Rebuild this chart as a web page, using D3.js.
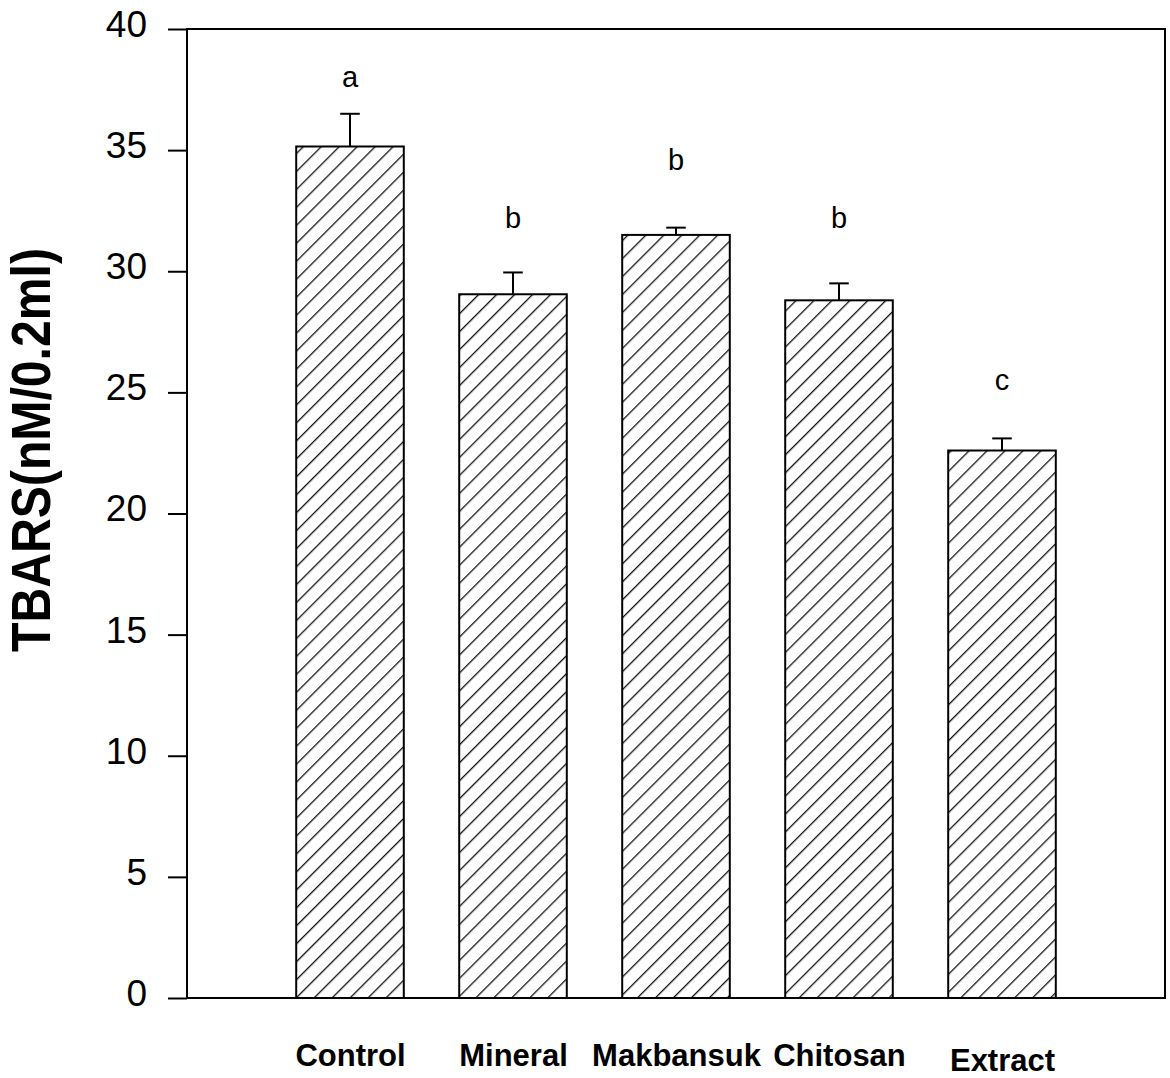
<!DOCTYPE html>
<html>
<head>
<meta charset="utf-8">
<script src="https://cdn.jsdelivr.net/npm/d3@7"></script>
<style>
  body { margin: 0; background: #fff; }
  svg { display: block; font-family: "Liberation Sans", Arial, sans-serif; }
</style>
</head>
<body>
<svg id="chart" width="1170" height="1078"></svg>
<script>
"use strict";

// values
const groups = ["Control", "Mineral", "Makbansuk", "Chitosan", "Extract"];
const means = [35.15, 29.05, 31.5, 28.8, 22.6];
const errors = [1.35, 0.9, 0.3, 0.7, 0.5];
const letters = ["a", "b", "b", "b", "c"];
const letterAt = [37.6, 31.8, 34.2, 31.8, 25.1];
const yTicks = [0, 5, 10, 15, 20, 25, 30, 35, 40];

const plotL = 187, plotR = 1165, plotT = 29, plotB = 998;
const barW = 0.66, capW = 0.12;

const svg = d3.select("#chart");

const x = d3.scaleLinear().domain([0, groups.length + 1]).range([plotL, plotR]);
const y = d3.scaleLinear().domain([0, 40]).range([plotB, plotT]);

const data = groups.map((g, i) => ({
  name: g, pos: i + 1, mean: means[i], err: errors[i],
  letter: letters[i], at: letterAt[i]
}));

// hatch fill
svg.append("defs").append("pattern")
  .attr("id", "hatch")
  .attr("patternUnits", "userSpaceOnUse")
  .attr("width", 12.7).attr("height", 12.7)
  .attr("patternTransform", "rotate(45)")
  .append("line")
  .attr("x1", 0).attr("y1", 0).attr("x2", 0).attr("y2", 12.7)
  .attr("stroke", "#111").attr("stroke-width", 2.6);

// bars
svg.selectAll(".bar")
  .data(data)
  .enter().append("rect")
  .attr("class", "bar")
  .attr("x", d => x(d.pos - barW / 2))
  .attr("y", d => y(d.mean))
  .attr("width", d => x(d.pos + barW / 2) - x(d.pos - barW / 2))
  .attr("height", d => y(0) - y(d.mean))
  .attr("fill", "url(#hatch)")
  .attr("stroke", "#000")
  .attr("stroke-width", 2);

// error bars (upper only)
const eb = svg.selectAll(".err").data(data).enter().append("g").attr("class", "err");
eb.append("line")
  .attr("x1", d => x(d.pos)).attr("x2", d => x(d.pos))
  .attr("y1", d => y(d.mean)).attr("y2", d => y(d.mean + d.err))
  .attr("stroke", "#000").attr("stroke-width", 2);
eb.append("line")
  .attr("x1", d => x(d.pos - capW / 2)).attr("x2", d => x(d.pos + capW / 2))
  .attr("y1", d => y(d.mean + d.err)).attr("y2", d => y(d.mean + d.err))
  .attr("stroke", "#000").attr("stroke-width", 2);

// significance letters
svg.selectAll(".sig")
  .data(data)
  .enter().append("text")
  .attr("class", "sig")
  .attr("x", d => x(d.pos))
  .attr("y", d => y(d.at))
  .attr("text-anchor", "middle")
  .attr("font-size", 29)
  .text(d => d.letter);

// frame
svg.append("rect")
  .attr("x", plotL).attr("y", plotT)
  .attr("width", plotR - plotL).attr("height", plotB - plotT)
  .attr("fill", "none").attr("stroke", "#000").attr("stroke-width", 2);

// y axis
const yAxis = svg.append("g")
  .attr("transform", `translate(${plotL},0)`)
  .call(d3.axisLeft(y).tickValues(yTicks).tickSize(19).tickPadding(21));
yAxis.select(".domain").remove();
yAxis.selectAll(".tick line").attr("stroke", "#000").attr("stroke-width", 2);
yAxis.selectAll(".tick text")
  .attr("font-size", 37)
  .attr("font-family", "Liberation Sans, Arial, sans-serif")
  .attr("fill", "#000")
  .attr("dy", "0.2em");

// x axis labels
const xAxis = svg.append("g")
  .attr("transform", `translate(0,${plotB})`)
  .call(d3.axisBottom(x)
    .tickValues(data.map(d => d.pos))
    .tickFormat((v, i) => groups[i])
    .tickSize(0).tickPadding(46));
xAxis.select(".domain").remove();
xAxis.selectAll(".tick text")
  .attr("font-size", 31)
  .attr("font-weight", "bold")
  .attr("font-family", "Liberation Sans, Arial, sans-serif")
  .attr("fill", "#000")
  .attr("dy", (v, i) => i === groups.length - 1 ? "0.88em" : "0.71em");

// y title
svg.append("text")
  .attr("transform", "translate(50,450) rotate(-90)")
  .attr("text-anchor", "middle")
  .attr("font-size", 56)
  .attr("font-weight", "bold")
  .attr("textLength", 404)
  .attr("lengthAdjust", "spacingAndGlyphs")
  .text("TBARS(nM/0.2ml)");
</script>
</body>
</html>
